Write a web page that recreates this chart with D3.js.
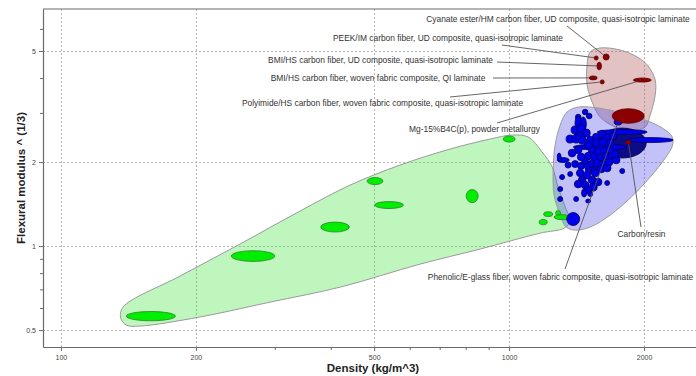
<!DOCTYPE html>
<html>
<head>
<meta charset="utf-8">
<script src="https://cdn.jsdelivr.net/npm/d3@7/dist/d3.min.js"></script>
<style>
  body { margin: 0; background: #fff; }
  svg { display: block; }
  text { font-family: "Liberation Sans", Arial, sans-serif; }
</style>
</head>
<body>
<svg id="chart" width="696" height="376"></svg>
<script>
// ---- Axis ticks ----
const densityTicks = [100, 200, 500, 1000, 2000];
const densityMinorTicks = [300, 400, 600, 700, 800, 900];
const modulusTicks = [0.5, 1, 2, 5];
const modulusMinorTicks = [0.6, 0.7, 0.8, 0.9, 3, 4, 6];

// ---- Property envelopes: [density, modulus^(1/3)] outline points ----
const foamEnvelope = [
  [136, 0.552], [137.5, 0.604], [184.4, 0.781], [250.9, 1.017], [341.6, 1.335], [441.7, 1.654],
  [571, 1.951], [738.5, 2.227], [907, 2.418], [1015, 2.499], [1103, 2.459], [1185, 2.172],
  [1248, 1.919], [1286, 1.627], [1334, 1.38], [1368, 1.229], [1327, 1.16], [1173, 1.113],
  [862, 0.976], [633, 0.862], [420, 0.713], [293, 0.63], [204, 0.557], [150, 0.517], [140, 0.521]
];
const compositeEnvelope = [
  [1300, 2.714], [1347, 3.022], [1426, 3.149], [1580, 3.123], [1788, 2.997], [2012, 2.829],
  [2196, 2.648], [2312, 2.459], [2312, 2.283], [2230, 2.067], [2064, 1.767], [1863, 1.486],
  [1681, 1.292], [1517, 1.17], [1404, 1.141], [1340, 1.17], [1300, 1.292], [1260, 1.523],
  [1254, 1.873], [1267, 2.302]
];
const highModEnvelope = [
  [1516, 4.958], [1597, 5.125], [1769, 5.041], [1931, 4.758], [2043, 4.417], [2118, 3.935],
  [2118, 3.477], [2064, 2.948], [2012, 2.67], [1882, 2.583], [1725, 2.67], [1597, 2.9],
  [1532, 3.282], [1493, 3.776], [1493, 4.454]
];

// ---- Material bubbles: [density low, density high, modulus^(1/3) low, high] ----
const foamBubbles = [
  [140, 180, 0.54, 0.583],
  [240, 300, 0.881, 0.963],
  [380, 440, 1.123, 1.219],
  [482, 523, 1.661, 1.76],
  [501, 581, 1.363, 1.444],
  [802, 853, 1.432, 1.594],
  [970, 1031, 2.359, 2.479],
  [1194, 1251, 1.277, 1.327],
  [1270, 1303, 1.286, 1.34],
  [1260, 1368, 1.244, 1.296],
  [1167, 1216, 1.192, 1.246]
];
const carbonResinCore = [
  [1581, 2023, 2.068, 2.648]
];
const compositeBubbles = [
  [1715, 1787, 2.715, 2.853],
  // upper stack
  [1457, 1499, 2.953, 3.093], [1487, 1531, 2.857, 2.992], [1406, 1447, 2.834, 2.968],
  [1403, 1450, 2.605, 2.924], [1439, 1487, 2.583, 2.9], [1375, 1433, 2.52, 2.693],
  [1418, 1478, 2.541, 2.714], [1456, 1517, 2.458, 2.626], [1393, 1474, 2.408, 2.552],
  [1340, 1396, 2.339, 2.499], [1382, 1440, 2.339, 2.499], [1425, 1485, 2.32, 2.479],
  // long flat laminates
  [1390, 1835, 2.209, 2.32], [1572, 2033, 2.51, 2.615], [1834, 2323, 2.349, 2.448],
  // central cluster
  [1488, 1547, 2.324, 2.475], [1534, 1595, 2.383, 2.537], [1582, 1645, 2.442, 2.6],
  [1623, 1688, 2.363, 2.516], [1674, 1741, 2.402, 2.558], [1534, 1595, 2.268, 2.415],
  [1590, 1653, 2.286, 2.434], [1649, 1714, 2.268, 2.415], [1502, 1562, 2.141, 2.28],
  [1549, 1611, 2.105, 2.241], [1598, 1662, 2.122, 2.26], [1649, 1714, 2.141, 2.28],
  [1472, 1531, 2.036, 2.168], [1518, 1579, 2.021, 2.152], [1566, 1628, 2.003, 2.133],
  [1614, 1678, 2.036, 2.168], [1665, 1731, 2.036, 2.168], [1449, 1507, 1.923, 2.047],
  [1495, 1554, 1.906, 2.03], [1542, 1603, 1.923, 2.047], [1590, 1653, 1.906, 2.03],
  [1640, 1705, 1.938, 2.064], [1700, 1767, 1.971, 2.099], [1480, 1539, 1.815, 1.933],
  [1526, 1587, 1.815, 1.933], [1574, 1637, 1.83, 1.948], [1623, 1688, 1.845, 1.965],
  [1692, 1759, 2.071, 2.205], [1472, 1531, 2.231, 2.375], [1398, 1454, 2.141, 2.28],
  [1355, 1409, 2.087, 2.223], [1420, 1477, 2.021, 2.152],
  // left arm
  [1280, 1361, 1.993, 2.076], [1280, 1306, 2.017, 2.155], [1333, 1375, 1.903, 2.0],
  [1379, 1429, 1.911, 2.025], [1422, 1474, 1.88, 1.992], [1470, 1516, 1.888, 1.983],
  // lower group
  [1413, 1469, 1.771, 1.885], [1464, 1522, 1.741, 1.854], [1526, 1587, 1.771, 1.885],
  [1427, 1484, 1.671, 1.779], [1398, 1454, 1.616, 1.721], [1449, 1507, 1.603, 1.707],
  [1502, 1562, 1.671, 1.779], [1509, 1572, 1.574, 1.682], [1549, 1611, 1.644, 1.75],
  [1472, 1531, 1.539, 1.639], [1451, 1489, 1.499, 1.601],
  // scattered grades
  [1296, 1330, 1.731, 1.804], [1351, 1386, 1.775, 1.85], [1283, 1317, 1.568, 1.634],
  [1283, 1317, 1.444, 1.505], [1393, 1429, 1.444, 1.505], [1482, 1520, 1.426, 1.474],
  [1498, 1537, 1.505, 1.568], [1634, 1676, 1.648, 1.717], [1765, 1811, 1.819, 1.896],
  [1344, 1437, 1.185, 1.319]
];
const highModBubbles = [
  [1621, 1672, 4.64, 4.88],
  [1548, 1580, 4.64, 4.8],
  [1570, 1607, 4.28, 4.56],
  [1509, 1572, 3.94, 4.07],
  [1597, 1630, 3.81, 3.94],
  [1892, 2076, 3.87, 4.0],
  [1698, 2002, 2.753, 3.106],
  [1820, 1872, 2.315, 2.392]
];

// ---- Annotated materials ----
const labelNames = [
  "Cyanate ester/HM carbon fiber, UD composite, quasi-isotropic laminate",
  "PEEK/IM carbon fiber, UD composite, quasi-isotropic laminate",
  "BMI/HS carbon fiber, UD composite, quasi-isotropic laminate",
  "BMI/HS carbon fiber, woven fabric composite, QI laminate",
  "Polyimide/HS carbon fiber, woven fabric composite, quasi-isotropic laminate",
  "Mg-15%B4C(p), powder metallurgy",
  "Carbon/resin",
  "Phenolic/E-glass fiber, woven fabric composite, quasi-isotropic laminate"
];
const labelTargets = [
  highModBubbles[0], highModBubbles[1], highModBubbles[2], highModBubbles[3],
  highModBubbles[4], highModBubbles[5], highModBubbles[7], compositeBubbles[0]
];

// ---- Layout ----
const plotLeft = 43, plotTop = 9, plotBottom = 347, plotRight = 696;
const svg = d3.select("#chart");

const x = d3.scaleLog().domain([91.2, 2612]).range([plotLeft, plotRight]);
const y = d3.scaleLog().domain([0.435, 7.07]).range([plotBottom, plotTop]);

svg.append("defs").append("clipPath").attr("id", "plotClip")
  .append("rect").attr("x", plotLeft).attr("y", plotTop)
  .attr("width", plotRight - plotLeft).attr("height", plotBottom - plotTop);

// grid
const grid = svg.append("g").attr("stroke", "#b4b4b4").attr("stroke-width", 1)
  .attr("stroke-dasharray", "2,2");
grid.selectAll(".gx").data(densityTicks).join("line")
  .attr("x1", d => Math.round(x(d)) + 0.5).attr("x2", d => Math.round(x(d)) + 0.5)
  .attr("y1", plotTop).attr("y2", plotBottom);
grid.selectAll(".gy").data(modulusTicks).join("line")
  .attr("y1", d => Math.round(y(d)) + 0.5).attr("y2", d => Math.round(y(d)) + 0.5)
  .attr("x1", plotLeft).attr("x2", plotRight);

const plot = svg.append("g").attr("clip-path", "url(#plotClip)");

// envelopes
const outline = d3.line()
  .x(d => x(d[0])).y(d => y(d[1]))
  .curve(d3.curveCatmullRomClosed.alpha(0.5));

plot.append("path").datum(foamEnvelope).attr("d", outline)
  .attr("fill", "rgba(40,225,40,0.3)").attr("stroke", "#9a9a9a").attr("stroke-width", 1);
plot.append("path").datum(highModEnvelope).attr("d", outline)
  .attr("fill", "rgba(175,85,85,0.36)").attr("stroke", "#9a9a9a").attr("stroke-width", 1);
plot.append("path").datum(compositeEnvelope).attr("d", outline)
  .attr("fill", "rgba(70,70,235,0.33)").attr("stroke", "#9a9a9a").attr("stroke-width", 1);

// bubbles
function bubbles(rows, fill, stroke) {
  plot.append("g").selectAll("ellipse").data(rows).join("ellipse")
    .attr("cx", d => (x(d[0]) + x(d[1])) / 2)
    .attr("cy", d => (y(d[2]) + y(d[3])) / 2)
    .attr("rx", d => (x(d[1]) - x(d[0])) / 2)
    .attr("ry", d => (y(d[2]) - y(d[3])) / 2)
    .attr("fill", fill).attr("stroke", stroke).attr("stroke-width", 0.8);
}
bubbles(foamBubbles, "#00ee00", "#2f7d2f");
bubbles(carbonResinCore, "#0c0c86", "#05054a");
bubbles(compositeBubbles, "#0000ea", "#00005c");
bubbles(highModBubbles, "#8b0000", "#5a0000");

// annotations
const labelLayout = [
  { cx: 558, cy: 19, ax: 567, ay: 26 },
  { cx: 448, cy: 38, ax: 502, ay: 45 },
  { cx: 380.5, cy: 60, ax: 497, ay: 62 },
  { cx: 378, cy: 78, ax: 493, ay: 78 },
  { cx: 382.5, cy: 103, ax: 450, ay: 97 },
  { cx: 474.5, cy: 129, ax: 497, ay: 123 },
  { cx: 641.5, cy: 234, ax: 641, ay: 227 },
  { cx: 560.5, cy: 277, ax: 565, ay: 269 }
];
const notes = svg.append("g");
labelNames.forEach((name, i) => {
  const t = labelTargets[i], L = labelLayout[i];
  const cx = (x(t[0]) + x(t[1])) / 2, cy = (y(t[2]) + y(t[3])) / 2;
  const rx = (x(t[1]) - x(t[0])) / 2, ry = (y(t[2]) - y(t[3])) / 2;
  const vx = L.ax - cx, vy = L.ay - cy;
  const k = 1 / Math.sqrt((vx / rx) ** 2 + (vy / ry) ** 2);
  notes.append("line")
    .attr("x1", L.ax).attr("y1", L.ay)
    .attr("x2", cx + vx * k).attr("y2", cy + vy * k)
    .attr("stroke", "#555").attr("stroke-width", 0.9);
  notes.append("text")
    .attr("x", L.cx).attr("y", L.cy + 3)
    .attr("text-anchor", "middle")
    .attr("font-size", 8.4).attr("fill", "#333")
    .text(name);
});

// axes
const axisColor = "#6a6a6a";
const xAxis = svg.append("g").attr("transform", `translate(0,${plotBottom})`)
  .call(d3.axisBottom(x).tickValues(densityTicks).tickSize(4).tickSizeOuter(0)
    .tickFormat(d3.format("d")));
svg.append("g").attr("transform", `translate(0,${plotBottom})`)
  .call(d3.axisBottom(x).tickValues(densityMinorTicks).tickSize(3).tickSizeOuter(0)
    .tickFormat(""))
  .call(g => g.select(".domain").remove());
svg.append("g").attr("transform", `translate(${plotLeft},0)`)
  .call(d3.axisLeft(y).tickValues(modulusTicks).tickSize(4).tickSizeOuter(0)
    .tickFormat(d3.format("~g")));
svg.append("g").attr("transform", `translate(${plotLeft},0)`)
  .call(d3.axisLeft(y).tickValues(modulusMinorTicks).tickSize(3).tickSizeOuter(0)
    .tickFormat(""))
  .call(g => g.select(".domain").remove());

svg.selectAll(".domain").attr("stroke", axisColor).attr("stroke-width", 1.2);
svg.selectAll(".tick line").attr("stroke", axisColor);
svg.selectAll(".tick text").attr("font-family", "Liberation Sans, Arial, sans-serif")
  .attr("font-size", 7).attr("fill", "#444");
xAxis.selectAll(".tick text").attr("dy", "0.9em");

// top frame line
svg.append("line").attr("x1", plotLeft).attr("x2", plotRight)
  .attr("y1", plotTop).attr("y2", plotTop)
  .attr("stroke", axisColor).attr("stroke-width", 1.2);

// axis titles
svg.append("text").attr("x", 373).attr("y", 372).attr("text-anchor", "middle")
  .attr("font-size", 11.5).attr("font-weight", "bold").attr("fill", "#222")
  .text("Density (kg/m^3)");
svg.append("text").attr("transform", "translate(25,178) rotate(-90)")
  .attr("text-anchor", "middle")
  .attr("font-size", 11.5).attr("font-weight", "bold").attr("fill", "#222")
  .text("Flexural modulus ^ (1/3)");
</script>
</body>
</html>
